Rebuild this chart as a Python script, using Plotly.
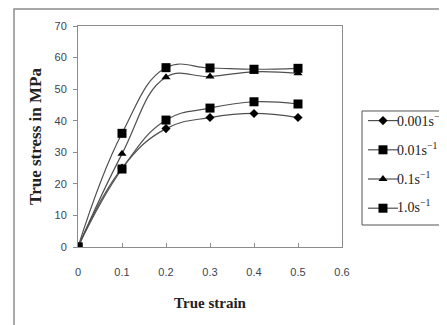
import plotly.graph_objects as go

strain = [0, 0.1, 0.2, 0.3, 0.4, 0.5]
x_ticks = [0, 0.1, 0.2, 0.3, 0.4, 0.5, 0.6]
x_ticklabels = ["0", "0.1", "0.2", "0.3", "0.4", "0.5", "0.6"]
series_names = ["0.001s<sup>−1</sup>", "0.01s<sup>−1</sup>", "0.1s<sup>−1</sup>", "1.0s<sup>−1</sup>"]
s_0001 = [0, 25.0, 37.5, 41.0, 42.3, 41.0]
s_001 = [0, 24.7, 40.2, 44.0, 46.0, 45.3]
s_01 = [0, 29.5, 53.8, 54.0, 55.5, 55.0]
s_10 = [0, 36.0, 56.8, 56.7, 56.3, 56.6]
symbols = ["diamond", "square", "triangle-up", "square"]
sizes = [7, 9, 8, 9]

# legend row centres (paper y) for the label texts
legend_rows = [0.5726, 0.4428, 0.3129, 0.1835]

fig = go.Figure()
for i, (name, vals, sym, sz) in enumerate(zip(series_names, [s_0001, s_001, s_01, s_10], symbols, sizes)):
    fig.add_trace(go.Scatter(
        x=strain, y=vals, name=" ", mode="lines+markers", legendgroup=f"g{i}",
        hovertemplate=name + "<br>strain %{x}<br>stress %{y} MPa<extra></extra>",
        line=dict(color="#505050", width=1.2, shape="spline", smoothing=1.2),
        marker=dict(symbol=sym, size=sz, color="black"),
    ))
    fig.add_annotation(xref="paper", yref="paper", x=1.199, y=legend_rows[i],
                       xanchor="left", yanchor="middle", showarrow=False, text=name,
                       font=dict(family="Liberation Serif", size=14, color="#222"))

tickfont = dict(family="Liberation Sans", size=11, color="#3c4450")

# page body adds an 8px margin, so the figure is 8px smaller than the window
fig.update_layout(
    template="none",
    width=439, height=317,
    margin=dict(l=70, r=105, t=18, b=78, autoexpand=False),
    paper_bgcolor="white", plot_bgcolor="white",
    xaxis=dict(range=[0, 0.6], tickvals=x_ticks, ticktext=x_ticklabels, automargin=False,
               showline=True, linecolor="#8c8c8c", linewidth=1, mirror=True,
               showgrid=False, zeroline=False, ticks="inside", ticklen=4, tickcolor="#8c8c8c",
               tickfont=tickfont, ticklabelstandoff=15,
               title=dict(text="<b>True strain</b>", font=dict(family="Liberation Serif", size=15, color="#222"), standoff=20)),
    yaxis=dict(range=[0, 70], dtick=10, automargin=False,
               showline=True, linecolor="#8c8c8c", linewidth=1, mirror=True,
               showgrid=False, zeroline=False, ticks="outside", ticklen=4, tickcolor="#8c8c8c",
               tickfont=tickfont, ticklabelstandoff=4,
               title=dict(text="<b>True stress in MPa</b>", font=dict(family="Liberation Serif", size=17, color="#222"), standoff=8)),
    legend=dict(x=1.0795, y=0.6425, xanchor="left", yanchor="top",
                borderwidth=0, bgcolor="rgba(0,0,0,0)",
                font=dict(family="Liberation Serif", size=14, color="#222"),
                itemwidth=30, tracegroupgap=8),
    showlegend=True,
    hovermode="closest",
    shapes=[dict(type="rect", xref="paper", yref="paper",
                 x0=-0.2424, x1=1.6, y0=-0.5, y1=1.0769,
                 line=dict(color="#8c8c8c", width=1.5), layer="below"),
            dict(type="rect", xref="paper", yref="paper",
                 x0=1.0758, x1=1.6, y0=0.0995, y1=0.6154,
                 line=dict(color="#555555", width=1), layer="below")],
)

fig.write_html("out.html")
